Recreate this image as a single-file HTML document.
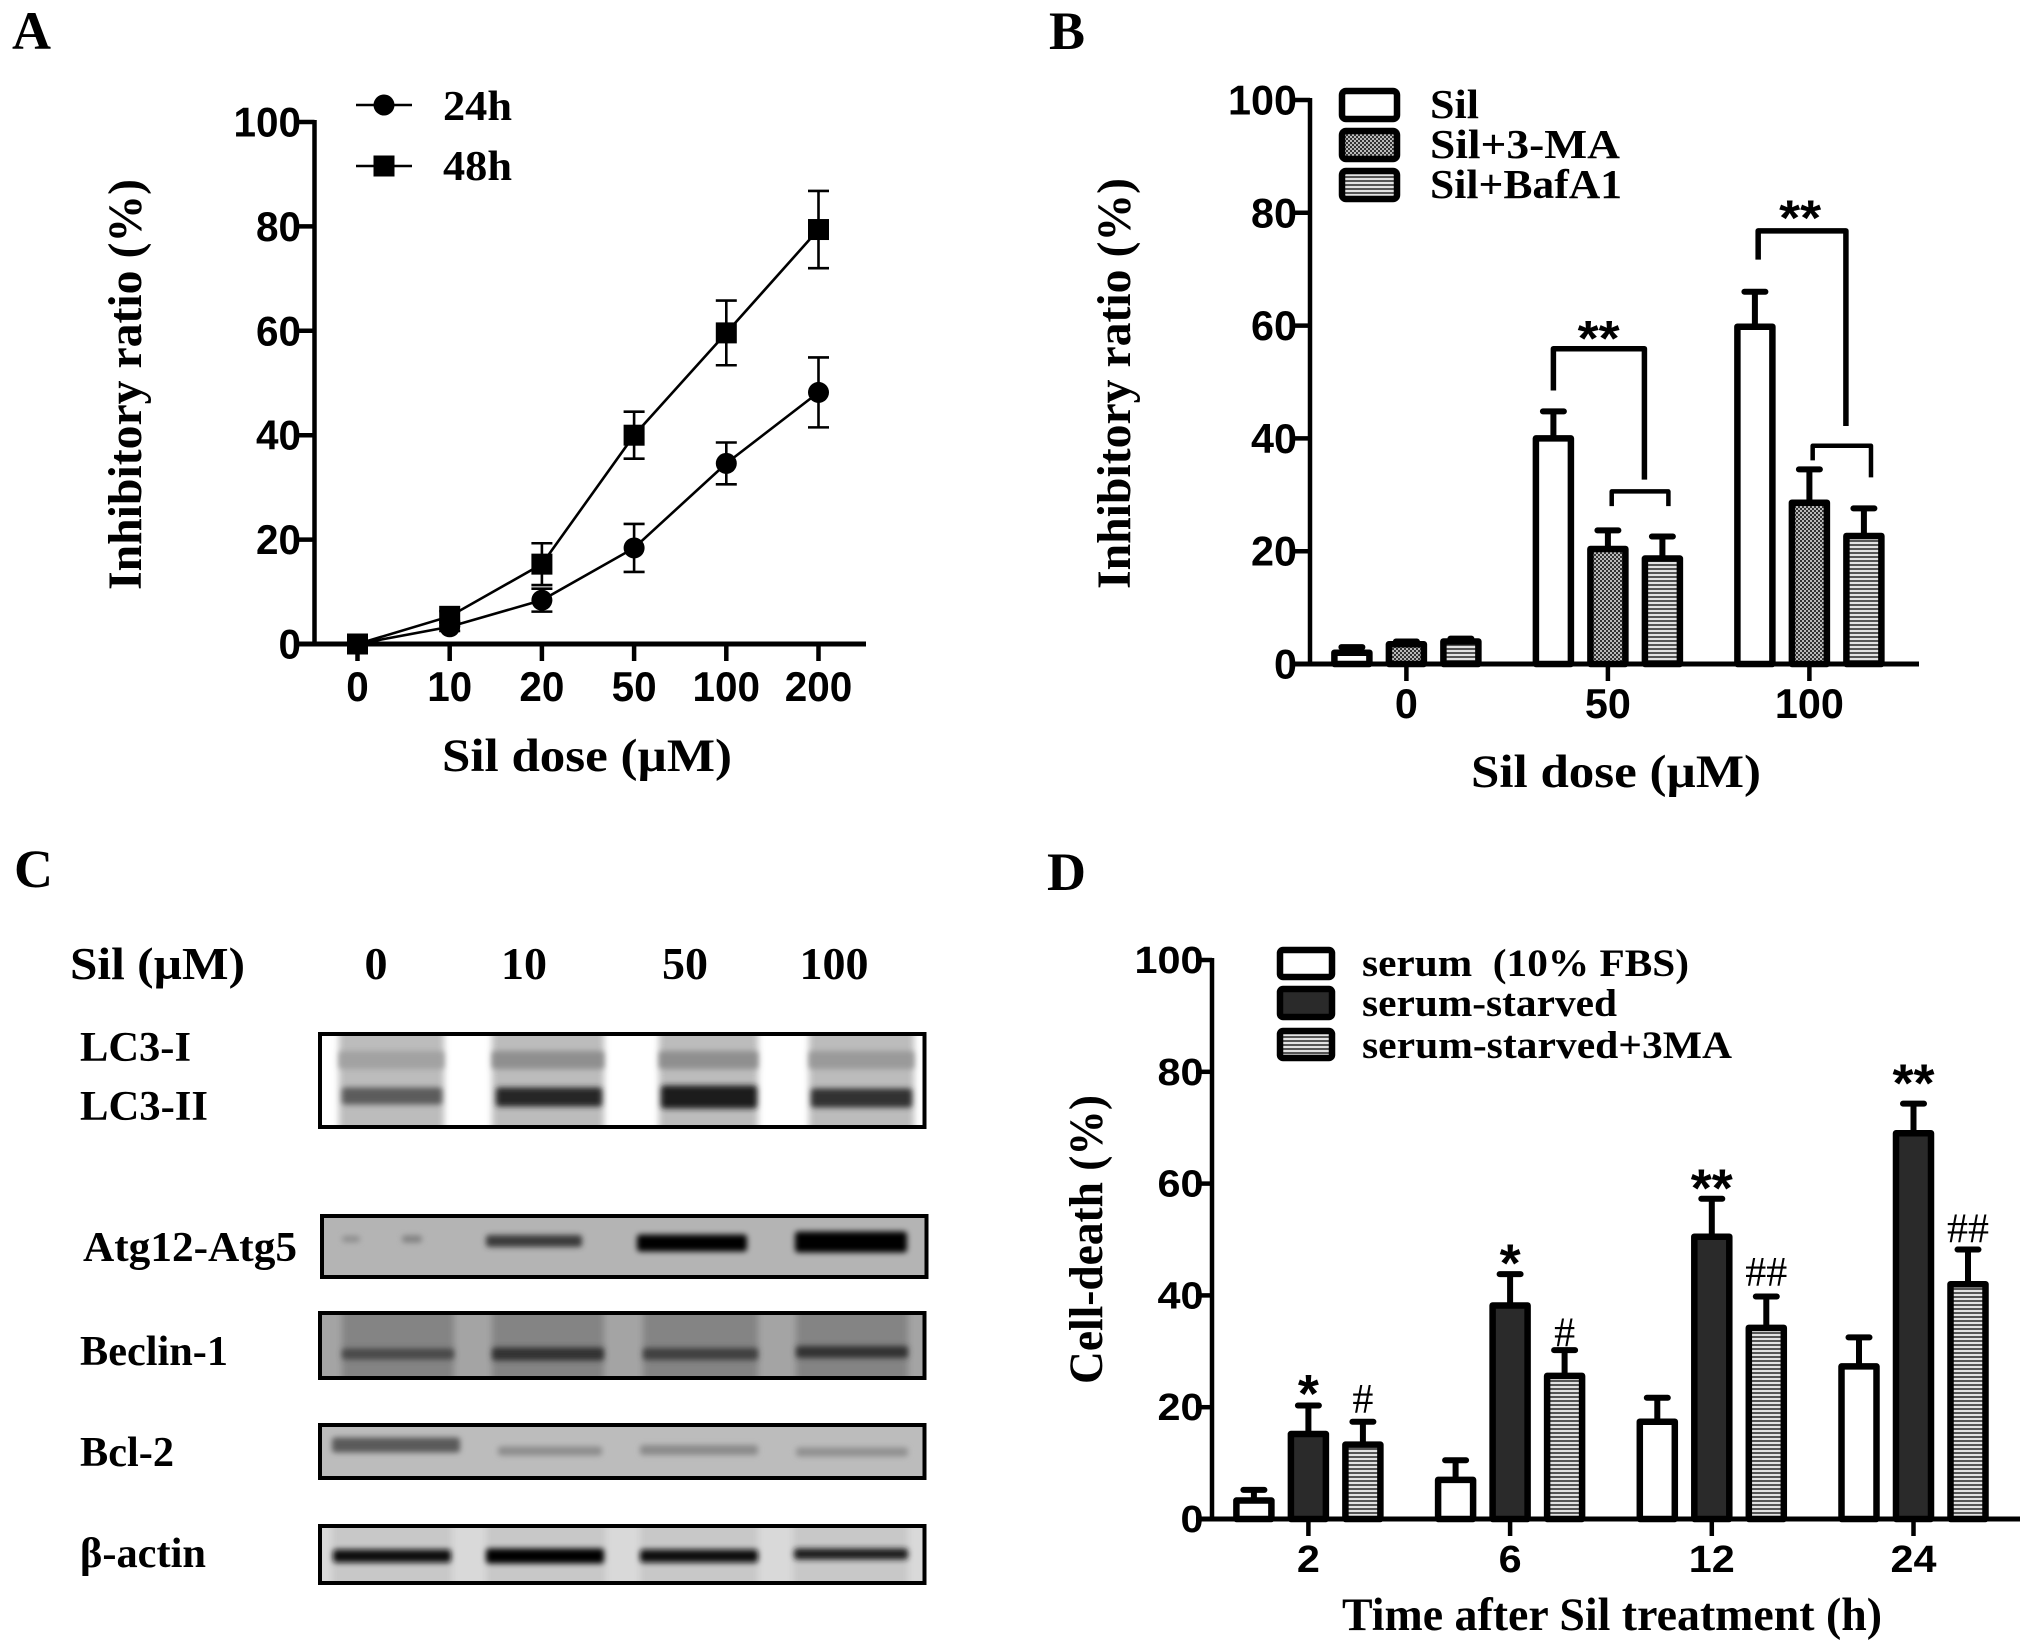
<!DOCTYPE html>
<html lang="en">
<head>
<meta charset="utf-8">
<title>Sil dose response, autophagy blots and cell death</title>
<style>
html,body{margin:0;padding:0;background:#fff;width:2031px;height:1651px;overflow:hidden}
svg{display:block}
text{fill:#000}
.s{font-family:"Liberation Serif","DejaVu Serif",serif;font-weight:bold}
.n{font-family:"Liberation Sans","DejaVu Sans",sans-serif;font-weight:bold}
</style>
</head>
<body>
<svg id="fig" xmlns="http://www.w3.org/2000/svg" width="2031" height="1651" viewBox="0 0 2031 1651">
<defs>
<pattern id="dots" width="4" height="4" patternUnits="userSpaceOnUse"><rect width="4" height="4" fill="#bbb"/><rect width="2" height="2" fill="#333"/><rect x="2" y="2" width="2" height="2" fill="#333"/></pattern>
<pattern id="lines" width="4" height="4" patternUnits="userSpaceOnUse"><rect width="4" height="4" fill="#e2e2e2"/><rect width="4" height="2" fill="#555"/></pattern>
<filter id="blur3" x="-30%" y="-100%" width="160%" height="300%"><feGaussianBlur stdDeviation="3.5"/></filter>
<filter id="blur2" x="-30%" y="-100%" width="160%" height="300%"><feGaussianBlur stdDeviation="3"/></filter>
<clipPath id="clip-blot1"><rect x="320" y="1034" width="604.5" height="93"/></clipPath>
<clipPath id="clip-blot2"><rect x="322" y="1216" width="604.5" height="61"/></clipPath>
<clipPath id="clip-blot3"><rect x="320" y="1313" width="604.5" height="65"/></clipPath>
<clipPath id="clip-blot4"><rect x="320" y="1425" width="604.5" height="53"/></clipPath>
<clipPath id="clip-blot5"><rect x="320" y="1526" width="604.5" height="57"/></clipPath>
</defs>

<text class="s" x="12" y="49" font-size="54">A</text>
<text class="s" x="1049" y="49" font-size="54">B</text>
<text class="s" x="14" y="887" font-size="54">C</text>
<text class="s" x="1047" y="890" font-size="54">D</text>

<!-- Panel A static text -->
<text class="s" transform="translate(141,590) rotate(-90)" font-size="48" textLength="411" lengthAdjust="spacingAndGlyphs">Inhibitory ratio (%)</text>
<text class="s" x="442" y="771" font-size="47" textLength="290" lengthAdjust="spacingAndGlyphs">Sil dose (µM)</text>
<g>
<line x1="356" x2="412" y1="105" y2="105" stroke="#000" stroke-width="2.5"/>
<circle cx="384" cy="105" r="10.5" fill="#000"/>
<text class="s" x="443" y="120" font-size="42" textLength="69" lengthAdjust="spacingAndGlyphs">24h</text>
<line x1="356" x2="412" y1="166" y2="166" stroke="#000" stroke-width="2.5"/>
<rect x="373.5" y="155.5" width="21" height="21" fill="#000"/>
<text class="s" x="443" y="180" font-size="42" textLength="69" lengthAdjust="spacingAndGlyphs">48h</text>
</g>

<!-- Panel B static text -->
<text class="s" transform="translate(1130,589) rotate(-90)" font-size="48" textLength="411" lengthAdjust="spacingAndGlyphs">Inhibitory ratio (%)</text>
<text class="s" x="1471" y="787" font-size="47" textLength="290" lengthAdjust="spacingAndGlyphs">Sil dose (µM)</text>
<g>
<rect x="1342" y="91" width="55" height="28" rx="4" fill="#fff" stroke="#000" stroke-width="6.5"/>
<rect x="1342" y="131" width="55" height="28" rx="4" fill="url(#dots)" stroke="#000" stroke-width="6.5"/>
<rect x="1342" y="171" width="55" height="28" rx="4" fill="url(#lines)" stroke="#000" stroke-width="6.5"/>
<text class="s" x="1430" y="118" font-size="41" textLength="49" lengthAdjust="spacingAndGlyphs">Sil</text>
<text class="s" x="1430" y="158" font-size="41" textLength="190" lengthAdjust="spacingAndGlyphs">Sil+3-MA</text>
<text class="s" x="1430" y="198" font-size="41" textLength="192" lengthAdjust="spacingAndGlyphs">Sil+BafA1</text>
</g>

<!-- Panel C static text -->
<g>
<text class="s" x="70" y="979" font-size="46" textLength="175" lengthAdjust="spacingAndGlyphs">Sil (µM)</text>
<text class="s" x="376" y="979" font-size="46" text-anchor="middle">0</text>
<text class="s" x="524" y="979" font-size="46" text-anchor="middle">10</text>
<text class="s" x="685" y="979" font-size="46" text-anchor="middle">50</text>
<text class="s" x="834" y="979" font-size="46" text-anchor="middle">100</text>
</g>
<text class="s" x="80" y="1061" font-size="42" textLength="111" lengthAdjust="spacingAndGlyphs">LC3-I</text>
<text class="s" x="80" y="1120" font-size="42" textLength="128" lengthAdjust="spacingAndGlyphs">LC3-II</text>
<text class="s" x="83" y="1261" font-size="42" textLength="214" lengthAdjust="spacingAndGlyphs">Atg12-Atg5</text>
<text class="s" x="80" y="1365" font-size="42" textLength="148" lengthAdjust="spacingAndGlyphs">Beclin-1</text>
<text class="s" x="80" y="1466" font-size="42" textLength="94" lengthAdjust="spacingAndGlyphs">Bcl-2</text>
<text class="s" x="80" y="1567" font-size="42" textLength="126" lengthAdjust="spacingAndGlyphs">β-actin</text>

<!-- Panel D static text -->
<text class="s" transform="translate(1102,1384) rotate(-90)" font-size="48" textLength="289" lengthAdjust="spacingAndGlyphs">Cell-death (%)</text>
<text class="s" x="1342" y="1630" font-size="47" textLength="540" lengthAdjust="spacingAndGlyphs">Time after Sil treatment (h)</text>
<g>
<rect x="1280" y="950" width="52" height="27" rx="3" fill="#fff" stroke="#000" stroke-width="6.5"/>
<rect x="1280" y="989" width="52" height="28" rx="3" fill="#2a2a2a" stroke="#000" stroke-width="6.5"/>
<rect x="1280" y="1031" width="52" height="27" rx="3" fill="url(#lines)" stroke="#000" stroke-width="6.5"/>
<text class="s" x="1362" y="976" font-size="39" textLength="327" lengthAdjust="spacingAndGlyphs" xml:space="preserve">serum  (10% FBS)</text>
<text class="s" x="1362" y="1016" font-size="39" textLength="255" lengthAdjust="spacingAndGlyphs">serum-starved</text>
<text class="s" x="1362" y="1058" font-size="39" textLength="370" lengthAdjust="spacingAndGlyphs">serum-starved+3MA</text>
</g>

<g id="plots"></g>
</svg>

<script>
// ---- Panel A data ----
const aCategories = ['0', '10', '20', '50', '100', '200'];
const aTicks = [0, 20, 40, 60, 80, 100];
const a24h = [0, 3.3, 8.4, 18.4, 34.6, 48.2];
const a24hErr = [0, 0.8, 2.2, 4.6, 4, 6.7];
const a48h = [0, 5.3, 15.3, 40, 59.6, 79.4];
const a48hErr = [0, 1, 4, 4.5, 6.2, 7.4];

// ---- Panel B data ----
const bCategories = ['0', '50', '100'];
const bTicks = [0, 20, 40, 60, 80, 100];
const bSil = [2, 40, 59.8];
const bSilErr = [1, 4.8, 6.2];
const b3MA = [3.5, 20.4, 28.6];
const b3MAErr = [0.5, 3.3, 5.9];
const bBaf = [4, 18.7, 22.7];
const bBafErr = [0.5, 3.9, 4.9];
const bStarLevels = [58.6, 80];

// ---- Panel D data ----
const dCategories = ['2', '6', '12', '24'];
const dTicks = [0, 20, 40, 60, 80, 100];
const dSerum = [3.3, 7, 17.4, 27.3];
const dSerumErr = [1.9, 3.5, 4.3, 5.2];
const dStarved = [15.2, 38.2, 50.5, 69];
const dStarvedErr = [5.1, 5.6, 6.8, 5.3];
const d3MA = [13.3, 25.6, 34.2, 42];
const d3MAErr = [4.1, 4.6, 5.6, 6.2];
const dStarvedMarks = ['*', '*', '**', '**'];
const dStarLevels = [23.4, 46.8, 60.2, 79];
const d3MAMarks = ['#', '#', '##', '##'];
const dHashLevels = [21.5, 33.4, 44.2, 52];

const SVGNS = 'http://www.w3.org/2000/svg';
const root = document.getElementById('plots');
function mk(parent, tag, attrs, txt) {
  const el = document.createElementNS(SVGNS, tag);
  for (const k in attrs) el.setAttribute(k, attrs[k]);
  if (txt !== undefined) el.textContent = txt;
  parent.appendChild(el);
  return el;
}
function group(name) {
  const g = mk(root, 'g', {});
  
  
  return g;
}
function numText(parent, x, y, str, fs, dw, anchor) {
  return mk(parent, 'text', {class: 'n', x: x, y: y, 'font-size': fs, 'text-anchor': anchor, textLength: str.length * dw, lengthAdjust: 'spacingAndGlyphs'}, str);
}

// axes drawing shared by panels
function drawAxes(prefix, g, cfg) {
  const yLine = mk(g, 'line', {x1: cfg.x0, x2: cfg.x0, y1: cfg.y(100) - 2, y2: cfg.y(0), stroke: '#000', 'stroke-width': 4.5});
  
  
  const xLine = mk(g, 'line', {x1: cfg.xStart, x2: cfg.xEnd, y1: cfg.y(0), y2: cfg.y(0), stroke: '#000', 'stroke-width': 5});
  
  
  cfg.yTicks.forEach(function (t) {
    const tk = mk(g, 'line', {x1: cfg.xStart, x2: cfg.x0, y1: cfg.y(t), y2: cfg.y(t), stroke: '#000', 'stroke-width': 4.5});
    
    
    const lb = numText(g, cfg.yLabelX, cfg.y(t) + cfg.digitH / 2, String(t), cfg.fs, cfg.dw, 'end');
    
    
  });
  cfg.cats.forEach(function (c, i) {
    const tk = mk(g, 'line', {x1: cfg.x(i), x2: cfg.x(i), y1: cfg.y(0), y2: cfg.y(0) + 17, stroke: '#000', 'stroke-width': 4.5});
    
    
    const lb = numText(g, cfg.x(i), cfg.xLabelY, c, cfg.fs, cfg.dw, 'middle');
    
    
  });
}

// ---------- Panel A ----------
const yA = v => 644 - v * 5.22;
const xA = i => 357.5 + i * 92.2;
const gA = group('panel-a-line-chart');
drawAxes('a', gA, {x0: 314.5, xStart: 298, xEnd: 866, y: yA, x: xA, yTicks: aTicks, cats: aCategories, yLabelX: 301, xLabelY: 701, fs: 42, dw: 22.5, digitH: 29});
function drawLine(name, vals, errs, shape) {
  const g = mk(gA, 'g', {});
  
  
  const pl = mk(g, 'polyline', {points: vals.map((v, i) => xA(i) + ',' + yA(v)).join(' '), fill: 'none', stroke: '#000', 'stroke-width': 2.6});
  
  
  vals.forEach(function (v, i) {
    if (errs[i] > 0) {
      const d = 'M' + xA(i) + ' ' + yA(v + errs[i]) + 'V' + yA(v - errs[i]) +
        'M' + (xA(i) - 10.5) + ' ' + yA(v + errs[i]) + 'h21' +
        'M' + (xA(i) - 10.5) + ' ' + yA(v - errs[i]) + 'h21';
      const eb = mk(g, 'path', {d: d, fill: 'none', stroke: '#000', 'stroke-width': 2.6});
      
      
    }
    let m;
    if (shape === 'circle') {
      m = mk(g, 'circle', {cx: xA(i), cy: yA(v), r: 10.5, fill: '#000'});
    } else {
      m = mk(g, 'rect', {x: xA(i) - 10.5, y: yA(v) - 10.5, width: 21, height: 21, fill: '#000'});
    }
    
    
  });
}
drawLine('24h', a24h, a24hErr, 'circle');
drawLine('48h', a48h, a48hErr, 'square');

// ---------- bars helper ----------
function drawBars(prefix, g, xc, y, series) {
  series.forEach(function (s, si) {
    s.vals.forEach(function (v, i) {
      const cx = xc(i, si);
      const top = v + s.errs[i];
      const eb = mk(g, 'path', {d: 'M' + cx + ' ' + y(v) + 'V' + y(top) + 'M' + (cx - 10.5) + ' ' + y(top) + 'h21', fill: 'none', stroke: '#000', 'stroke-width': 6, 'stroke-linecap': 'round'});
      
      
      const b = mk(g, 'rect', {x: cx - 17.5, y: y(v), width: 35, height: y(0) - y(v), fill: s.fill, stroke: '#000', 'stroke-width': 6.5, 'stroke-linejoin': 'round'});
      
      
    });
  });
}

// ---------- Panel B ----------
const yB = v => 664 - v * 5.64;
const xB = i => 1406.4 + i * 201.5;
const xBar = (i, si) => xB(i) + (si - 1) * 54.5;
const gB = group('panel-b-bar-chart');
drawBars('b', gB, xBar, yB, [
  {name: 'sil', vals: bSil, errs: bSilErr, fill: '#fff'},
  {name: '3ma', vals: b3MA, errs: b3MAErr, fill: 'url(#dots)'},
  {name: 'bafa1', vals: bBaf, errs: bBafErr, fill: 'url(#lines)'}
]);
drawAxes('b', gB, {x0: 1310, xStart: 1292, xEnd: 1919, y: yB, x: xB, yTicks: bTicks, cats: bCategories, yLabelX: 1297, xLabelY: 718, fs: 42, dw: 23, digitH: 29});
function bracket(name, gi, s0, s1, v0, vTop, v1, w) {
  const d = 'M' + xBar(gi, s0) + ' ' + yB(v0) + 'V' + yB(vTop) + 'H' + xBar(gi, s1) + 'V' + yB(v1);
  const p = mk(gB, 'path', {d: d, fill: 'none', stroke: '#000', 'stroke-width': w, 'stroke-linejoin': 'round'});
  
  
}
bracket('b-bracket-50-wide', 1, 0, 1.67, 48.5, 55.9, 32.7, 5.5);
bracket('b-bracket-50-narrow', 1, 1.07, 2.11, 28, 30.6, 28, 4.5);
bracket('b-bracket-100-wide', 2, 0.06, 1.67, 71.7, 76.8, 42.2, 5.5);
bracket('b-bracket-100-narrow', 2, 1.06, 2.13, 36.1, 38.7, 33.1, 4.5);
const st1 = mk(gB, 'text', {class: 'n', x: xBar(1, 0.83), y: yB(bStarLevels[0]) + 22, 'font-size': 50, 'text-anchor': 'middle', textLength: 42, lengthAdjust: 'spacingAndGlyphs'}, '**');


const st2 = mk(gB, 'text', {class: 'n', x: xBar(2, 0.83), y: yB(bStarLevels[1]) + 22, 'font-size': 50, 'text-anchor': 'middle', textLength: 42, lengthAdjust: 'spacingAndGlyphs'}, '**');



// ---------- Panel D ----------
const yD = v => 1519 - v * 5.59;
const xD = i => 1308.4 + i * 201.7;
const xDBar = (i, si) => xD(i) + (si - 1) * 54.5;
const gD = group('panel-d-bar-chart');
drawBars('d', gD, xDBar, yD, [
  {name: 'serum', vals: dSerum, errs: dSerumErr, fill: '#fff'},
  {name: 'starved', vals: dStarved, errs: dStarvedErr, fill: '#2a2a2a'},
  {name: '3ma', vals: d3MA, errs: d3MAErr, fill: 'url(#lines)'}
]);
drawAxes('d', gD, {x0: 1212, xStart: 1196, xEnd: 2020, y: yD, x: xD, yTicks: dTicks, cats: dCategories, yLabelX: 1203.5, xLabelY: 1572, fs: 38, dw: 23, digitH: 26});
dStarvedMarks.forEach(function (m, i) {
  const t = mk(gD, 'text', {class: 'n', x: xDBar(i, 1), y: yD(dStarLevels[i]) + 24, 'font-size': 54, 'text-anchor': 'middle'}, m);
  
  
});
d3MAMarks.forEach(function (m, i) {
  const t = mk(gD, 'text', {x: xDBar(i, 2), y: yD(dHashLevels[i]) + 14, 'font-size': 42, 'text-anchor': 'middle', 'font-family': '"Liberation Serif",serif'}, m);
  
  
});

// ---------- Panel C blots ----------
const blots = [
  {name: 'lc3', x: 320, y: 1034, w: 604.5, h: 93, bg: '#ffffff', lane: '#bcbcbc', laneX: [[339, 105], [492, 112], [659, 99], [809, 105]],
   bands: [
     [339, 105, 1060, 18, '#a2a2a2'], [492, 112, 1060, 18, '#8f8f8f'], [659, 99, 1060, 18, '#8f8f8f'], [809, 105, 1060, 18, '#9a9a9a'],
     [342, 100, 1096, 17, '#5c5c5c'], [496, 106, 1097, 19, '#262626'], [661, 96, 1097, 23, '#1c1c1c'], [811, 101, 1098, 19, '#333333']
   ]},
  {name: 'atg12-atg5', x: 322, y: 1216, w: 604.5, h: 61, bg: '#b4b4b4', lane: null, laneX: [],
   bands: [
     [342, 18, 1239, 6, '#8b8b8b'], [402, 20, 1239, 7, '#808080'], [486, 96, 1241, 12, '#3a3a3a'],
     [637, 110, 1243, 17, '#050505'], [795, 112, 1242, 21, '#000000']
   ]},
  {name: 'beclin-1', x: 320, y: 1313, w: 604.5, h: 65, bg: '#a4a4a4', lane: '#848484', laneX: [[342, 112], [492, 112], [643, 115], [796, 112]],
   bands: [
     [342, 112, 1354, 11, '#494949'], [492, 112, 1354, 13, '#333333'], [643, 115, 1354, 12, '#404040'], [796, 112, 1352, 12, '#333333']
   ]},
  {name: 'bcl-2', x: 320, y: 1425, w: 604.5, h: 53, bg: '#bcbcbc', lane: null, laneX: [],
   bands: [
     [332, 128, 1445, 15, '#5a5a5a'], [498, 104, 1451, 9, '#8c8c8c'], [640, 118, 1450, 10, '#8a8a8a'], [796, 112, 1452, 9, '#909090']
   ]},
  {name: 'beta-actin', x: 320, y: 1526, w: 604.5, h: 57, bg: '#d9d9d9', lane: '#c8c8c8', laneX: [[332, 120], [486, 120], [640, 118], [793, 115]],
   bands: [
     [333, 118, 1556, 13, '#0e0e0e'], [486, 118, 1556, 15, '#050505'], [640, 118, 1556, 13, '#0e0e0e'], [794, 114, 1554, 11, '#1c1c1c']
   ]}
];
const gC = group('panel-c-western-blots');
blots.forEach(function (b, bi) {
  const g = mk(gC, 'g', {'clip-path': 'url(#clip-blot' + (bi + 1) + ')'});
  
  
  mk(g, 'rect', {x: b.x, y: b.y, width: b.w, height: b.h, fill: b.bg});
  b.laneX.forEach(function (l) {
    mk(g, 'rect', {x: l[0], y: b.y - 10, width: l[1], height: b.h + 20, fill: b.lane, filter: 'url(#blur3)'});
  });
  b.bands.forEach(function (s) {
    mk(g, 'rect', {x: s[0], y: s[2] - s[3] / 2, width: s[1], height: s[3], rx: 3, fill: s[4], filter: 'url(#blur2)'});
  });
  const fr = mk(gC, 'rect', {x: b.x, y: b.y, width: b.w, height: b.h, fill: 'none', stroke: '#000', 'stroke-width': 4});
  
  
});
</script>
</body>
</html>
